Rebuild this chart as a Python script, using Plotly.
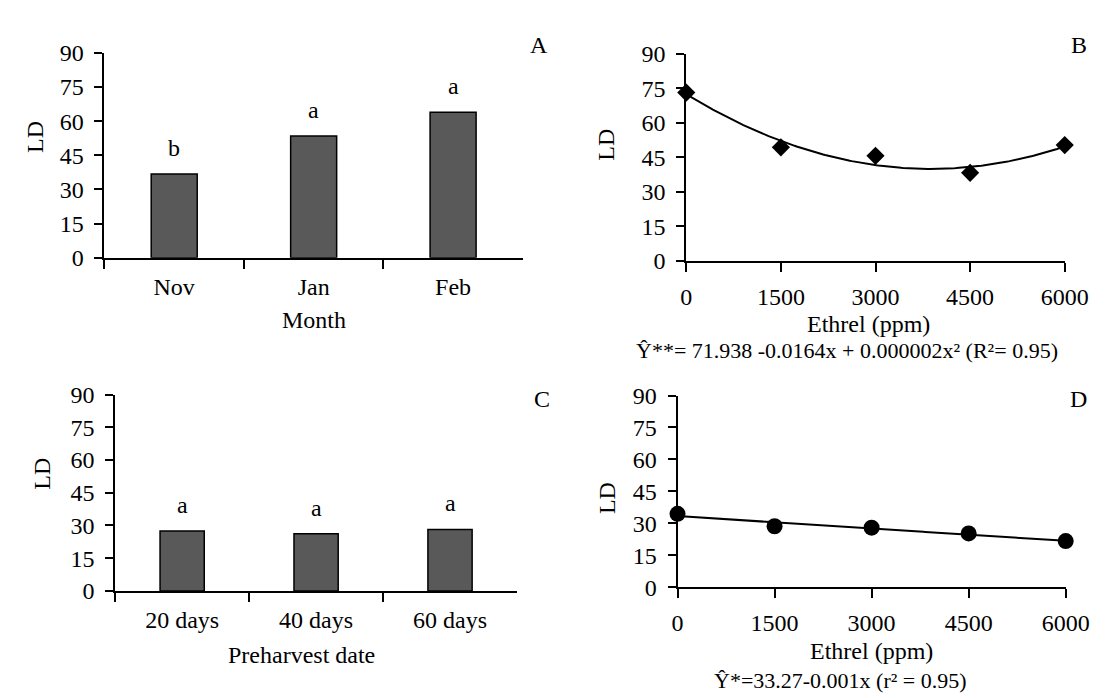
import numpy as np
import plotly.graph_objects as go

# ---- data ----
months = ["Nov", "Jan", "Feb"]
ld_month = [36.8, 53.5, 63.9]
letters_month = ["b", "a", "a"]

ethrel_ppm = [0, 1500, 3000, 4500, 6000]
ld_ethrel_b = [73.1, 49.3, 45.6, 38.2, 50.3]

preharvest = ["20 days", "40 days", "60 days"]
ld_preharvest = [27.5, 26.2, 28.2]
letters_preharvest = ["a", "a", "a"]

ld_ethrel_d = [34.4, 28.6, 27.9, 25.2, 21.6]

y_ticks = [0, 15, 30, 45, 60, 75, 90]
x_ticks_ethrel = [0, 1500, 3000, 4500, 6000]

W, H = 1107, 698
FONT = "Liberation Serif, Times New Roman, serif"
FS = 24
FS_EQ = 22
BAR_COLOR = "#595959"

def px_x(p):
    return p / W

def px_y(p):
    return 1 - p / H

fig = go.Figure()

# Panel A
fig.add_trace(go.Bar(x=months, y=ld_month, width=0.33,
                     marker=dict(color=BAR_COLOR, line=dict(color="black", width=1.5)),
                     xaxis="x", yaxis="y", showlegend=False))
# Panel B
coef_b = np.polyfit(ethrel_ppm, ld_ethrel_b, 2)
xs = np.linspace(0, 6000, 200)
fig.add_trace(go.Scatter(x=xs, y=np.polyval(coef_b, xs), mode="lines", line=dict(color="black", width=2),
                         xaxis="x2", yaxis="y2", showlegend=False, cliponaxis=False))
fig.add_trace(go.Scatter(x=ethrel_ppm, y=ld_ethrel_b, mode="markers",
                         marker=dict(symbol="diamond", size=14, color="black"),
                         xaxis="x2", yaxis="y2", showlegend=False, cliponaxis=False))
# Panel C
fig.add_trace(go.Bar(x=preharvest, y=ld_preharvest, width=0.33,
                     marker=dict(color=BAR_COLOR, line=dict(color="black", width=1.5)),
                     xaxis="x3", yaxis="y3", showlegend=False))
# Panel D
coef_d = np.polyfit(ethrel_ppm, ld_ethrel_d, 1)
fig.add_trace(go.Scatter(x=xs, y=np.polyval(coef_d, xs), mode="lines", line=dict(color="black", width=2),
                         xaxis="x4", yaxis="y4", showlegend=False, cliponaxis=False))
fig.add_trace(go.Scatter(x=ethrel_ppm, y=ld_ethrel_d, mode="markers",
                         marker=dict(symbol="circle", size=16, color="black"),
                         xaxis="x4", yaxis="y4", showlegend=False, cliponaxis=False))

tickfont = dict(family=FONT, size=FS, color="black")

def yaxis(domain, anchor):
    return dict(domain=domain, anchor=anchor, range=[0, 90], tickvals=y_ticks, ticks="outside", ticklen=8,
                tickwidth=2, tickcolor="black", showline=True, linecolor="black", linewidth=2,
                showgrid=False, zeroline=False, tickfont=tickfont, ticklabelstandoff=6, fixedrange=True)

def xcat(domain, anchor):
    return dict(domain=domain, anchor=anchor, type="category", ticks="outside", tickson="boundaries",
                ticklen=9, tickwidth=2, tickcolor="black", showline=True, linecolor="black", linewidth=2,
                showgrid=False, tickfont=tickfont, ticklabelstandoff=6)

def xnum(domain, anchor):
    return dict(domain=domain, anchor=anchor, range=[0, 6000], tickvals=x_ticks_ethrel, ticks="outside",
                ticklen=9, tickwidth=2, tickcolor="black", showline=True, linecolor="black", linewidth=2,
                showgrid=False, zeroline=False, tickfont=tickfont, ticklabelstandoff=4)

fig.update_layout(
    width=W, height=H, margin=dict(l=0, r=0, t=0, b=0),
    paper_bgcolor="white", plot_bgcolor="white",
    font=dict(family=FONT, size=FS, color="black"),
    xaxis=xcat([px_x(93), px_x(523)], "y"),
    yaxis=yaxis([px_y(246), px_y(33)], "x"),
    xaxis2=xnum([px_x(691), px_x(1080)], "y2"),
    yaxis2=yaxis([px_y(249), px_y(34)], "x2"),
    xaxis3=xcat([px_x(104), px_x(517)], "y3"),
    yaxis3=yaxis([px_y(592), px_y(388)], "x3"),
    xaxis4=xnum([px_x(682), px_x(1081)], "y4"),
    yaxis4=yaxis([px_y(588), px_y(389)], "x4"),
    bargap=0.67,
)

ann = []
def paper_text(text, x, y, angle=0, size=FS):
    ann.append(dict(text=text, x=px_x(x), y=px_y(y), xref="paper", yref="paper", showarrow=False,
                    xanchor="center", yanchor="middle", textangle=angle,
                    font=dict(family=FONT, size=size, color="black")))

# letters over bars
for m, v, t in zip(months, ld_month, letters_month):
    ann.append(dict(text=t, x=m, y=v, xref="x", yref="y", showarrow=False, yanchor="middle", yshift=26,
                    font=dict(family=FONT, size=FS, color="black")))
for m, v, t in zip(preharvest, ld_preharvest, letters_preharvest):
    ann.append(dict(text=t, x=m, y=v, xref="x3", yref="y3", showarrow=False, yanchor="middle", yshift=26,
                    font=dict(family=FONT, size=FS, color="black")))

# panel letters
paper_text("A", 540, 25)
paper_text("B", 1095, 25)
paper_text("C", 543, 393)
paper_text("D", 1094, 393)

# axis titles
paper_text("LD", 21, 120, angle=-90)
paper_text("LD", 609, 128, angle=-90)
paper_text("LD", 29, 470, angle=-90)
paper_text("LD", 609, 495, angle=-90)
paper_text("Month", 308, 311)
paper_text("Ethrel (ppm)", 878, 315)
paper_text("Preharvest date", 295, 659)
paper_text("Ethrel (ppm)", 881, 654)

# equations
paper_text("Ŷ**= 71.938 -0.0164x + 0.000002x² (R²= 0.95)", 856, 342, size=FS_EQ)
paper_text("Ŷ*=33.27-0.001x (r² = 0.95)", 850, 685, size=FS_EQ)

fig.update_layout(annotations=ann)
fig.write_html("out.html")
